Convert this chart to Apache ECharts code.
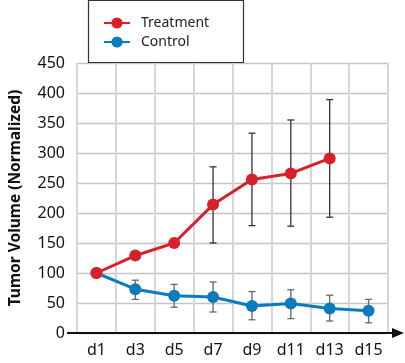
<!DOCTYPE html>
<html><head><meta charset="utf-8">
<script src="https://cdn.jsdelivr.net/npm/echarts@6/dist/echarts.min.js"></script>
<style>html,body{margin:0;padding:0;background:#fff}#c{width:405px;height:363px}</style>
</head><body><div id="c"></div>
<script>
var categories = ['d1','d3','d5','d7','d9','d11','d13','d15'];
var treatment = [100, 129, 150, 214, 256, 266, 291, null];
var treatmentLow = [null, null, null, 150, 179, 178, 193, null];
var treatmentHigh = [null, null, null, 277, 333, 355, 389, null];
var control = [100, 73, 62, 60, 45, 49, 41, 37];
var controlLow = [null, 56, 43, 35, 22, 24, 20, 17];
var controlHigh = [null, 88, 81, 85, 69, 72, 63, 56];
var yTicks = [0, 50, 100, 150, 200, 250, 300, 350, 400, 450];

var FONT = 'Noto Sans';
var chart = echarts.init(document.getElementById('c'), null, {renderer:'canvas'});

function errData(low, high){
  var out = [];
  for (var i=0;i<categories.length;i++){ if (low[i]!=null) out.push([i, low[i], high[i]]); }
  return out;
}
function errRender(color){
  return function(params, api){
    var x = api.value(0);
    var lo = api.coord([x, api.value(1)]);
    var hi = api.coord([x, api.value(2)]);
    var w = 3.5;
    var st = {stroke: color, lineWidth: 1.3};
    return {type:'group', children:[
      {type:'line', shape:{x1:lo[0],y1:lo[1],x2:hi[0],y2:hi[1]}, style:st},
      {type:'line', shape:{x1:lo[0]-w,y1:lo[1],x2:lo[0]+w,y2:lo[1]}, style:st},
      {type:'line', shape:{x1:hi[0]-w,y1:hi[1],x2:hi[0]+w,y2:hi[1]}, style:st}
    ]};
  };
}
var RED = '#d7202a', BLUE = '#0a7bbd';
chart.setOption({
  animation:false,
  grid:{left:68, right:17, top:63, bottom:30, containLabel:false},
  legend:{
    orient:'vertical', left:98, top:11, itemGap:5, itemWidth:26, itemHeight:14,
    textStyle:{fontFamily:FONT, fontSize:14, color:'#222', padding:[0,0,0,6]},
    data:['Treatment','Control']
  },
  xAxis:{
    type:'category', data:categories, boundaryGap:true,
    axisLine:{show:false}, axisTick:{show:false},
    axisLabel:{fontFamily:FONT, fontSize:16, color:'#111', margin:9},
    splitLine:{show:true, lineStyle:{color:'#d6d6d6', width:2}}
  },
  yAxis:{
    type:'value', min:0, max:450, interval:50,
    name:'Tumor Volume (Normalized)', nameLocation:'middle', nameGap:53,
    nameTextStyle:{fontFamily:FONT, fontSize:15.5, fontWeight:'bold', color:'#111'},
    axisLine:{show:false}, axisTick:{show:false},
    axisLabel:{fontFamily:FONT, fontSize:16, color:'#111', margin:12,
      formatter:function(v){ return yTicks.indexOf(v)>=0 ? String(v) : ''; }},
    splitLine:{show:true, lineStyle:{color:'#c4c4c4', width:1.3}}
  },
  series:[
    {type:'custom', name:'tErr', renderItem:errRender('#333'), data:errData(treatmentLow, treatmentHigh), z:1, silent:true},
    {type:'custom', name:'cErr', renderItem:errRender('#666'), data:errData(controlLow, controlHigh), z:1, silent:true},
    {type:'line', name:'Control', data:control, color:BLUE, symbol:'circle', symbolSize:12,
      lineStyle:{width:3, color:BLUE}, itemStyle:{color:BLUE}, z:3},
    {type:'line', name:'Treatment', data:treatment, color:RED, symbol:'circle', symbolSize:12,
      lineStyle:{width:3, color:RED}, itemStyle:{color:RED}, z:4}
  ]
});
var o = chart.convertToPixel({gridIndex:0}, [0, 0]);
var top = chart.convertToPixel({gridIndex:0}, [0, 450]);
var ox = 68, oy = o[1];
chart.setOption({graphic:[
  {type:'rect', shape:{x:88.5, y:0.5, width:155, height:62}, style:{fill:'none', stroke:'#333', lineWidth:1.2}, z:10},
  {type:'line', shape:{x1:ox, y1:oy, x2:ox, y2:top[1]-14}, style:{stroke:'#111', lineWidth:2}, z:10},
  {type:'polygon', shape:{points:[[ox, top[1]-20],[ox-5, top[1]-8],[ox+5, top[1]-8]]}, style:{fill:'#111'}, z:10},
  {type:'line', shape:{x1:ox-1, y1:oy, x2:396, y2:oy}, style:{stroke:'#111', lineWidth:2}, z:10},
  {type:'polygon', shape:{points:[[404, oy],[392, oy-5],[392, oy+5]]}, style:{fill:'#111'}, z:10}
]});
</script></body></html>
